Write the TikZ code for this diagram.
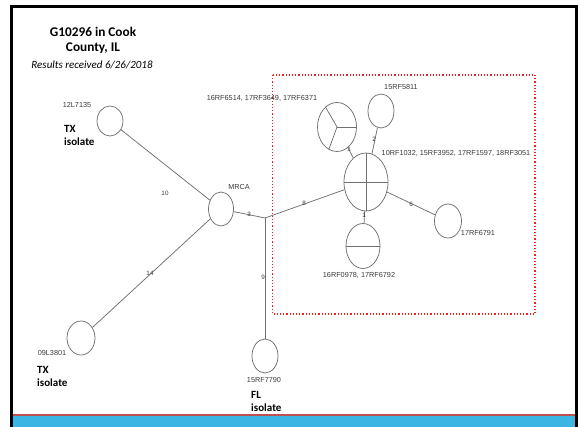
\documentclass[tikz,border=0pt]{standalone}
\usepackage{fontspec}
\setmainfont{Carlito}
\newfontfamily\arialf{Liberation Sans}
\usetikzlibrary{shapes.geometric}
\definecolor{edgegray}{HTML}{707070}
\definecolor{txtgray}{HTML}{3A3A3A}
\definecolor{barblue}{HTML}{3BB5E3}
\definecolor{barred}{HTML}{C0504D}
\definecolor{boxred}{HTML}{FF1A1A}
\tikzset{
  hap/.style={ellipse, draw=edgegray, line width=0.75pt, inner sep=0pt},
  link/.style={draw=edgegray, line width=0.75pt},
  inner/.style={draw=edgegray, line width=0.75pt},
  nlab/.style={font=\arialf\fontsize{7.3}{8}\selectfont, text=txtgray, inner sep=0pt},
  elab/.style={font=\arialf\fontsize{6.3}{7}\selectfont, text=txtgray, inner sep=0pt},
  iso/.style={font=\bfseries\fontsize{11}{13}\selectfont, align=left, anchor=north west, inner sep=0pt},
}
\begin{document}
\begin{tikzpicture}[x=1pt,y=-1pt]
\useasboundingbox (0,0) rectangle (580,427);
% frame
\fill[barblue] (10,416) rectangle (577,427);
\draw[barred, line width=2pt] (10,414.5) -- (577,414.5);
\draw[black, line width=2.6pt] (11.3,427) -- (11.3,6.3) -- (576.2,6.3) -- (576.2,427);
% title
\node[font=\bfseries\fontsize{13.3}{15.5}\selectfont, align=center] (title) at (93,40.5) {G10296 in Cook\\County, IL};
\node[font=\itshape\fontsize{11}{13}\selectfont] (sub) at (92,65) {Results received 6/26/2018};
% red dotted box
\draw[boxred, line width=1.2pt, dotted] (272.5,75) rectangle (535,314);
% nodes
\node[hap, minimum width=26pt, minimum height=30pt] (n12) at (110,121) {};
\node[hap, minimum width=25pt, minimum height=34pt] (mrca) at (221,209) {};
\node[hap, minimum width=28pt, minimum height=34pt] (n09) at (81,338) {};
\node[hap, minimum width=26pt, minimum height=34pt] (n15f) at (265,356) {};
\coordinate (j) at (265,218);
\node[hap, minimum width=44pt, minimum height=58pt] (big) at (366,182) {};
\node[hap, minimum width=39pt, minimum height=49pt] (pie) at (337,127) {};
\node[hap, minimum width=26pt, minimum height=34pt] (n58) at (381,111) {};
\node[hap, minimum width=27pt, minimum height=34pt] (n67) at (448,221) {};
\node[hap, minimum width=34pt, minimum height=45pt] (n09b) at (363,246) {};
% inner partitions
\draw[inner] (big.north) -- (big.south);
\draw[inner] (big.west) -- (big.east);
\draw[inner] (pie.center) -- (pie.east);
\draw[inner] (pie.center) -- (pie.120);
\draw[inner] (pie.center) -- (pie.250);
\draw[inner] (n09b.west) -- (n09b.east);
% connectors
\draw[link] (n12) -- (mrca);
\draw[link] (n09) -- (mrca);
\draw[link] (mrca) -- (j);
\draw[link] (j) -- (n15f);
\draw[link] (j) -- (big);
\draw[link] (big) -- (pie);
\draw[link] (big) -- (n58);
\draw[link] (big) -- (n67);
\draw[link] (big) -- (n09b);
% edge labels
\node[elab] (e10) at (165,193) {10};
\node[elab] (e14) at (150,273) {14};
\node[elab] (e3) at (249,214) {3};
\node[elab] (e9) at (263,277) {9};
\node[elab] (e8) at (304,203) {8};
\node[elab] (e1a) at (349,149) {1};
\node[elab] (e2) at (374,139) {2};
\node[elab] (e6) at (411,204) {6};
\node[elab] (e1b) at (364,215) {1};
% node labels
\node[nlab] (l12) at (77,105) {12L7135};
\node[nlab] (lmrca) at (239,187) {MRCA};
\node[nlab] (l09) at (52,353) {09L3801};
\node[nlab] (l15f) at (264,380) {15RF7790};
\node[nlab] (lbig) at (456,153) {10RF1032, 15RF3952, 17RF1597, 18RF3051};
\node[nlab] (lpie) at (262,98) {16RF6514, 17RF3649, 17RF6371};
\node[nlab] (l58) at (401,87) {15RF5811};
\node[nlab] (l67) at (478,233) {17RF6791};
\node[nlab] (l09b) at (359,275) {16RF0978, 17RF6792};
% isolate labels
\node[iso] (tx1) at (64,125) {TX\\isolate};
\node[iso] (tx2) at (37,366) {TX\\isolate};
\node[iso] (fl) at (251,391) {FL\\isolate};
\end{tikzpicture}
\end{document}
